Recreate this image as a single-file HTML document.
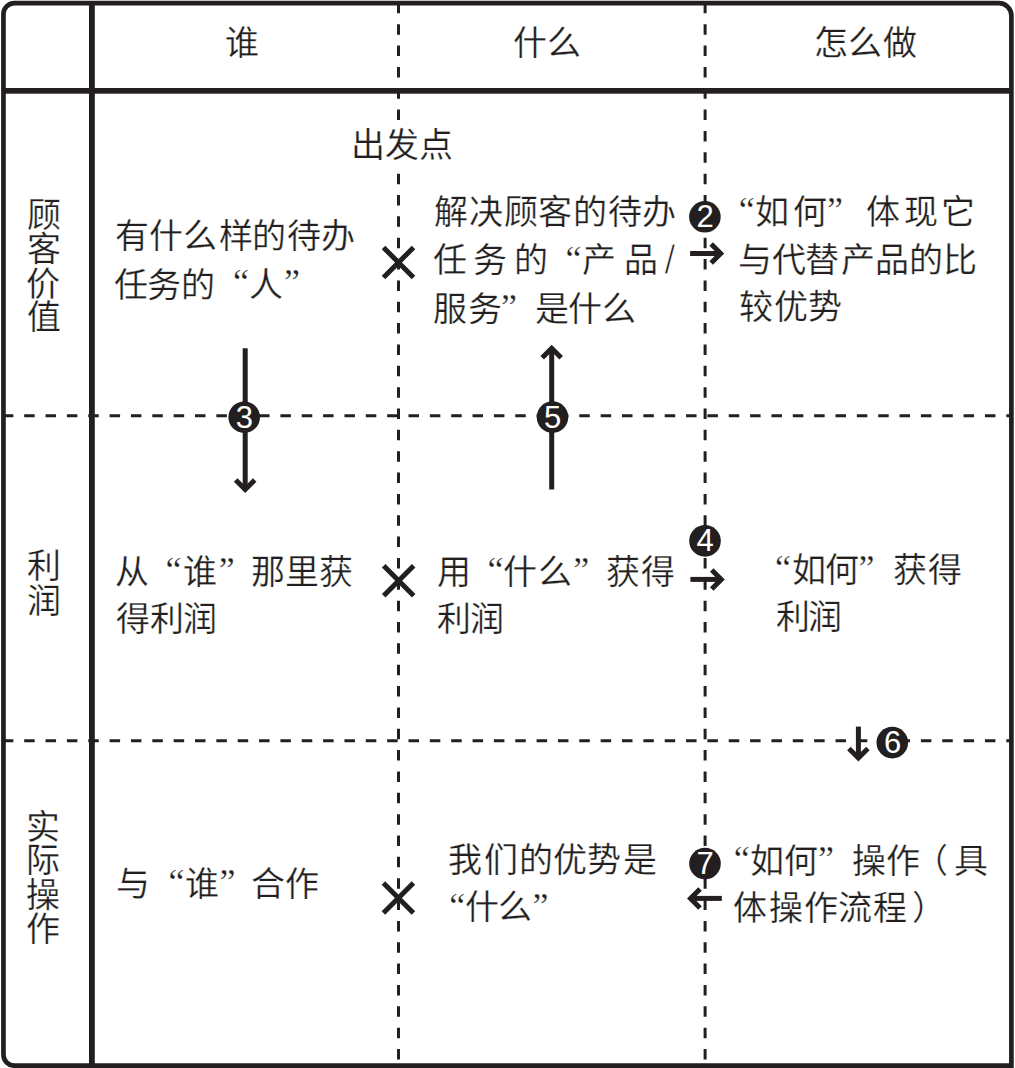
<!DOCTYPE html>
<html lang="zh-CN"><head><meta charset="utf-8">
<style>
html,body{margin:0;padding:0;background:#fff;}
body{width:1015px;height:1068px;position:relative;overflow:hidden;font-family:"Liberation Sans",sans-serif;}
svg{position:absolute;left:0;top:0;}
.c{position:absolute;font-size:34px;line-height:34px;color:#231f20;white-space:nowrap;-webkit-text-stroke:0.25px #fff;}
.q{position:absolute;font-family:"Liberation Serif",serif;color:#231f20;white-space:nowrap;-webkit-text-stroke:0.25px #fff;}
.s{position:absolute;font-family:"Liberation Sans",sans-serif;color:#231f20;-webkit-text-stroke:1px #fff;}
.d{position:absolute;font-family:"Liberation Sans",sans-serif;font-size:31px;line-height:31px;color:#fff;}
</style></head>
<body>
<svg width="1015" height="1068" viewBox="0 0 1015 1068">
<path d="M398.5 3.00V13.35M398.5 24.20V34.70M398.5 45.55V56.05M398.5 66.90V77.40M398.5 88.25V98.75M398.5 109.60V120.10M398.5 130.95V141.45M398.5 152.30V162.80M398.5 173.65V184.15M398.5 195.00V205.50M398.5 216.35V226.85M398.5 237.70V248.20M398.5 259.05V269.55M398.5 280.40V290.90M398.5 301.75V312.25M398.5 323.10V333.60M398.5 344.45V354.95M398.5 365.80V376.30M398.5 387.15V397.65M398.5 408.50V419.00M398.5 429.85V440.35M398.5 451.20V461.70M398.5 472.55V483.05M398.5 493.90V504.40M398.5 515.25V525.75M398.5 536.60V547.10M398.5 557.95V568.45M398.5 579.30V589.80M398.5 600.65V611.15M398.5 622.00V632.50M398.5 643.35V653.85M398.5 664.70V675.20M398.5 686.05V696.55M398.5 707.40V717.90M398.5 728.75V739.25M398.5 750.10V760.60M398.5 771.45V781.95M398.5 792.80V803.30M398.5 814.15V824.65M398.5 835.50V846.00M398.5 856.85V867.35M398.5 878.20V888.70M398.5 899.55V910.05M398.5 920.90V931.40M398.5 942.25V952.75M398.5 963.60V974.10M398.5 984.95V995.45M398.5 1006.30V1016.80M398.5 1027.65V1038.15M398.5 1049.00V1059.50" stroke="#231f20" stroke-width="3" fill="none"/>
<path d="M705.1 3.00V13.35M705.1 24.20V34.70M705.1 45.55V56.05M705.1 66.90V77.40M705.1 88.25V98.75M705.1 109.60V120.10M705.1 130.95V141.45M705.1 152.30V162.80M705.1 173.65V184.15M705.1 195.00V205.50M705.1 216.35V226.85M705.1 237.70V248.20M705.1 259.05V269.55M705.1 280.40V290.90M705.1 301.75V312.25M705.1 323.10V333.60M705.1 344.45V354.95M705.1 365.80V376.30M705.1 387.15V397.65M705.1 408.50V419.00M705.1 429.85V440.35M705.1 451.20V461.70M705.1 472.55V483.05M705.1 493.90V504.40M705.1 515.25V525.75M705.1 536.60V547.10M705.1 557.95V568.45M705.1 579.30V589.80M705.1 600.65V611.15M705.1 622.00V632.50M705.1 643.35V653.85M705.1 664.70V675.20M705.1 686.05V696.55M705.1 707.40V717.90M705.1 728.75V739.25M705.1 750.10V760.60M705.1 771.45V781.95M705.1 792.80V803.30M705.1 814.15V824.65M705.1 835.50V846.00M705.1 856.85V867.35M705.1 878.20V888.70M705.1 899.55V910.05M705.1 920.90V931.40M705.1 942.25V952.75M705.1 963.60V974.10M705.1 984.95V995.45M705.1 1006.30V1016.80M705.1 1027.65V1038.15M705.1 1049.00V1059.50" stroke="#231f20" stroke-width="3" fill="none"/>
<path d="M3.00 415.7H13.35M24.20 415.7H34.70M45.55 415.7H56.05M66.90 415.7H77.40M88.25 415.7H98.75M109.60 415.7H120.10M130.95 415.7H141.45M152.30 415.7H162.80M173.65 415.7H184.15M195.00 415.7H205.50M216.35 415.7H226.85M237.70 415.7H248.20M259.05 415.7H269.55M280.40 415.7H290.90M301.75 415.7H312.25M323.10 415.7H333.60M344.45 415.7H354.95M365.80 415.7H376.30M387.15 415.7H397.65M408.50 415.7H419.00M429.85 415.7H440.35M451.20 415.7H461.70M472.55 415.7H483.05M493.90 415.7H504.40M515.25 415.7H525.75M536.60 415.7H547.10M557.95 415.7H568.45M579.30 415.7H589.80M600.65 415.7H611.15M622.00 415.7H632.50M643.35 415.7H653.85M664.70 415.7H675.20M686.05 415.7H696.55M707.40 415.7H717.90M728.75 415.7H739.25M750.10 415.7H760.60M771.45 415.7H781.95M792.80 415.7H803.30M814.15 415.7H824.65M835.50 415.7H846.00M856.85 415.7H867.35M878.20 415.7H888.70M899.55 415.7H910.05M920.90 415.7H931.40M942.25 415.7H952.75M963.60 415.7H974.10M984.95 415.7H995.45M1006.30 415.7H1012.00" stroke="#231f20" stroke-width="3" fill="none"/>
<path d="M3.00 740.7H13.35M24.20 740.7H34.70M45.55 740.7H56.05M66.90 740.7H77.40M88.25 740.7H98.75M109.60 740.7H120.10M130.95 740.7H141.45M152.30 740.7H162.80M173.65 740.7H184.15M195.00 740.7H205.50M216.35 740.7H226.85M237.70 740.7H248.20M259.05 740.7H269.55M280.40 740.7H290.90M301.75 740.7H312.25M323.10 740.7H333.60M344.45 740.7H354.95M365.80 740.7H376.30M387.15 740.7H397.65M408.50 740.7H419.00M429.85 740.7H440.35M451.20 740.7H461.70M472.55 740.7H483.05M493.90 740.7H504.40M515.25 740.7H525.75M536.60 740.7H547.10M557.95 740.7H568.45M579.30 740.7H589.80M600.65 740.7H611.15M622.00 740.7H632.50M643.35 740.7H653.85M664.70 740.7H675.20M686.05 740.7H696.55M707.40 740.7H717.90M728.75 740.7H739.25M750.10 740.7H760.60M771.45 740.7H781.95M792.80 740.7H803.30M814.15 740.7H824.65M835.50 740.7H846.00M856.85 740.7H867.35M878.20 740.7H888.70M899.55 740.7H910.05M920.90 740.7H931.40M942.25 740.7H952.75M963.60 740.7H974.10M984.95 740.7H995.45M1006.30 740.7H1012.00" stroke="#231f20" stroke-width="3" fill="none"/>
<rect x="89" y="2" width="5.8" height="1066" fill="#231f20"/>
<rect x="2" y="88" width="1010" height="5.7" fill="#231f20"/>
<path d="M3.45 1054.7 V14.2 A11 11 0 0 1 14.45 3.2 H998.9 A12.5 12.5 0 0 1 1011.4 15.7 V1065.7 H14.45 A11 11 0 0 1 3.45 1054.7 Z" fill="none" stroke="#231f20" stroke-width="4.7" stroke-linejoin="miter"/>
<path d="M383.5 247.5L413.5 277.5M413.5 247.5L383.5 277.5" stroke="#231f20" stroke-width="5" fill="none"/>
<path d="M383.7 565.7L413.7 595.7M413.7 565.7L383.7 595.7" stroke="#231f20" stroke-width="5" fill="none"/>
<path d="M383.4 883L413.4 913M413.4 883L383.4 913" stroke="#231f20" stroke-width="5" fill="none"/>
<path d="M690.10 253.50L718.67 253.50" stroke="#231f20" stroke-width="5" fill="none"/><path d="M711.17 263.00L720.67 253.50L711.17 244.00" stroke="#231f20" stroke-width="5" fill="none" stroke-linejoin="miter" stroke-miterlimit="4"/>
<path d="M690.40 579.40L719.26 579.40" stroke="#231f20" stroke-width="5" fill="none"/><path d="M711.76 588.90L721.26 579.40L711.76 569.90" stroke="#231f20" stroke-width="5" fill="none" stroke-linejoin="miter" stroke-miterlimit="4"/>
<path d="M721.80 898.40L692.53 898.40" stroke="#231f20" stroke-width="5" fill="none"/><path d="M700.03 888.90L690.53 898.40L700.03 907.90" stroke="#231f20" stroke-width="5" fill="none" stroke-linejoin="miter" stroke-miterlimit="4"/>
<path d="M245.20 348.25L245.20 487.46" stroke="#231f20" stroke-width="5" fill="none"/><path d="M235.70 479.96L245.20 489.46L254.70 479.96" stroke="#231f20" stroke-width="5" fill="none" stroke-linejoin="miter" stroke-miterlimit="4"/>
<path d="M551.70 489.50L551.70 350.29" stroke="#231f20" stroke-width="5" fill="none"/><path d="M561.20 357.79L551.70 348.29L542.20 357.79" stroke="#231f20" stroke-width="5" fill="none" stroke-linejoin="miter" stroke-miterlimit="4"/>
<path d="M858.40 726.60L858.40 755.97" stroke="#231f20" stroke-width="5" fill="none"/><path d="M848.90 748.47L858.40 757.97L867.90 748.47" stroke="#231f20" stroke-width="5" fill="none" stroke-linejoin="miter" stroke-miterlimit="4"/>
<circle cx="704.9" cy="216.8" r="15.8" fill="#231f20"/>
<circle cx="244.2" cy="417.2" r="15.8" fill="#231f20"/>
<circle cx="705" cy="540.9" r="15.8" fill="#231f20"/>
<circle cx="552.5" cy="417.1" r="15.8" fill="#231f20"/>
<circle cx="892.3" cy="742.6" r="15.8" fill="#231f20"/>
<circle cx="705" cy="863.6" r="15.8" fill="#231f20"/>
</svg>
<div class="c" style="left:225.3px;top:25.6px">谁</div>
<div class="c" style="left:513.2px;top:25.6px">什</div>
<div class="c" style="left:547.1px;top:25.6px">么</div>
<div class="c" style="left:813.9px;top:25.6px">怎</div>
<div class="c" style="left:847.8px;top:25.6px">么</div>
<div class="c" style="left:882.7px;top:25.6px">做</div>
<div class="c" style="left:26.7px;top:198.1px">顾</div>
<div class="c" style="left:26.6px;top:232.3px">客</div>
<div class="c" style="left:26.4px;top:267.0px">价</div>
<div class="c" style="left:26.6px;top:300.4px">值</div>
<div class="c" style="left:26.8px;top:549.4px">利</div>
<div class="c" style="left:26.5px;top:583.6px">润</div>
<div class="c" style="left:26.4px;top:810.1px">实</div>
<div class="c" style="left:25.7px;top:843.4px">际</div>
<div class="c" style="left:26.4px;top:878.1px">操</div>
<div class="c" style="left:26.4px;top:911.6px">作</div>
<div style="position:absolute;left:352px;top:125px;width:102px;height:42px;background:#fff"></div>
<div class="c" style="left:350.8px;top:128.3px">出</div>
<div class="c" style="left:384.8px;top:128.3px">发</div>
<div class="c" style="left:418.6px;top:128.3px">点</div>
<div class="c" style="left:114.7px;top:218.8px">有</div>
<div class="c" style="left:148.5px;top:218.8px">什</div>
<div class="c" style="left:183.0px;top:218.8px">么</div>
<div class="c" style="left:218.5px;top:218.8px">样</div>
<div class="c" style="left:251.7px;top:218.8px">的</div>
<div class="c" style="left:286.8px;top:218.8px">待</div>
<div class="c" style="left:321.1px;top:218.8px">办</div>
<div class="c" style="left:113.9px;top:267.5px">任</div>
<div class="c" style="left:146.9px;top:267.5px">务</div>
<div class="c" style="left:180.7px;top:267.5px">的</div>
<div class="q" style="left:232.9px;top:264.1px;font-size:36px;line-height:36px">“</div>
<div class="c" style="left:249.4px;top:267.5px">人</div>
<div class="q" style="left:284.1px;top:264.1px;font-size:36px;line-height:36px">”</div>
<div class="c" style="left:434.3px;top:195.2px">解</div>
<div class="c" style="left:469.1px;top:195.2px">决</div>
<div class="c" style="left:503.7px;top:195.2px">顾</div>
<div class="c" style="left:538.2px;top:195.2px">客</div>
<div class="c" style="left:573.0px;top:195.2px">的</div>
<div class="c" style="left:607.5px;top:195.2px">待</div>
<div class="c" style="left:642.4px;top:195.2px">办</div>
<div class="c" style="left:433.0px;top:243.2px">任</div>
<div class="c" style="left:472.7px;top:243.2px">务</div>
<div class="c" style="left:513.5px;top:243.2px">的</div>
<div class="q" style="left:565.6px;top:240.6px;font-size:36px;line-height:36px">“</div>
<div class="c" style="left:581.6px;top:243.2px">产</div>
<div class="c" style="left:623.9px;top:243.2px">品</div>
<div class="c" style="left:433.4px;top:291.8px">服</div>
<div class="c" style="left:468.2px;top:291.8px">务</div>
<div class="q" style="left:501.0px;top:288.6px;font-size:36px;line-height:36px">”</div>
<div class="c" style="left:535.0px;top:291.8px">是</div>
<div class="c" style="left:568.4px;top:291.8px">什</div>
<div class="c" style="left:602.2px;top:291.8px">么</div>
<div class="q" style="left:738.7px;top:191.6px;font-size:36px;line-height:36px">“</div>
<div class="c" style="left:755.3px;top:195.2px">如</div>
<div class="c" style="left:793.2px;top:195.2px">何</div>
<div class="q" style="left:827.1px;top:191.6px;font-size:36px;line-height:36px">”</div>
<div class="c" style="left:866.2px;top:195.2px">体</div>
<div class="c" style="left:904.1px;top:195.2px">现</div>
<div class="c" style="left:941.2px;top:195.2px">它</div>
<div class="c" style="left:738.3px;top:242.5px">与</div>
<div class="c" style="left:771.6px;top:242.5px">代</div>
<div class="c" style="left:805.2px;top:242.5px">替</div>
<div class="c" style="left:841.1px;top:242.5px">产</div>
<div class="c" style="left:875.2px;top:242.5px">品</div>
<div class="c" style="left:908.8px;top:242.5px">的</div>
<div class="c" style="left:942.6px;top:242.5px">比</div>
<div class="c" style="left:738.8px;top:289.9px">较</div>
<div class="c" style="left:774.1px;top:289.9px">优</div>
<div class="c" style="left:807.8px;top:289.9px">势</div>
<div class="c" style="left:115.2px;top:554.5px">从</div>
<div class="q" style="left:165.6px;top:551.6px;font-size:36px;line-height:36px">“</div>
<div class="c" style="left:183.0px;top:554.5px">谁</div>
<div class="q" style="left:218.8px;top:551.6px;font-size:36px;line-height:36px">”</div>
<div class="c" style="left:251.0px;top:554.5px">那</div>
<div class="c" style="left:284.8px;top:554.5px">里</div>
<div class="c" style="left:318.9px;top:554.5px">获</div>
<div class="c" style="left:115.6px;top:601.9px">得</div>
<div class="c" style="left:150.0px;top:601.9px">利</div>
<div class="c" style="left:182.9px;top:601.9px">润</div>
<div class="c" style="left:436.7px;top:555.1px">用</div>
<div class="q" style="left:487.5px;top:552.1px;font-size:36px;line-height:36px">“</div>
<div class="c" style="left:503.1px;top:555.1px">什</div>
<div class="c" style="left:537.6px;top:555.1px">么</div>
<div class="q" style="left:573.3px;top:552.1px;font-size:36px;line-height:36px">”</div>
<div class="c" style="left:605.6px;top:555.1px">获</div>
<div class="c" style="left:640.5px;top:555.1px">得</div>
<div class="c" style="left:436.5px;top:601.9px">利</div>
<div class="c" style="left:469.7px;top:601.9px">润</div>
<div class="q" style="left:775.0px;top:549.6px;font-size:36px;line-height:36px">“</div>
<div class="c" style="left:791.6px;top:552.5px">如</div>
<div class="c" style="left:824.8px;top:552.5px">何</div>
<div class="q" style="left:858.5px;top:549.6px;font-size:36px;line-height:36px">”</div>
<div class="c" style="left:892.9px;top:552.5px">获</div>
<div class="c" style="left:927.6px;top:552.5px">得</div>
<div class="c" style="left:775.6px;top:600.4px">利</div>
<div class="c" style="left:808.4px;top:600.4px">润</div>
<div class="c" style="left:115.6px;top:866.6px">与</div>
<div class="q" style="left:168.6px;top:863.6px;font-size:36px;line-height:36px">“</div>
<div class="c" style="left:184.6px;top:866.6px">谁</div>
<div class="q" style="left:219.5px;top:863.6px;font-size:36px;line-height:36px">”</div>
<div class="c" style="left:251.2px;top:866.6px">合</div>
<div class="c" style="left:284.5px;top:866.6px">作</div>
<div class="c" style="left:448.2px;top:843.1px">我</div>
<div class="c" style="left:483.6px;top:843.1px">们</div>
<div class="c" style="left:518.6px;top:843.1px">的</div>
<div class="c" style="left:552.8px;top:843.1px">优</div>
<div class="c" style="left:586.8px;top:843.1px">势</div>
<div class="c" style="left:622.5px;top:843.1px">是</div>
<div class="q" style="left:449.2px;top:887.6px;font-size:36px;line-height:36px">“</div>
<div class="c" style="left:465.3px;top:890.4px">什</div>
<div class="c" style="left:498.3px;top:890.4px">么</div>
<div class="q" style="left:532.6px;top:887.6px;font-size:36px;line-height:36px">”</div>
<div class="q" style="left:733.7px;top:840.6px;font-size:36px;line-height:36px">“</div>
<div class="c" style="left:750.0px;top:843.5px">如</div>
<div class="c" style="left:784.1px;top:843.5px">何</div>
<div class="q" style="left:818.1px;top:840.6px;font-size:36px;line-height:36px">”</div>
<div class="c" style="left:851.9px;top:843.5px">操</div>
<div class="c" style="left:886.4px;top:843.5px">作</div>
<div class="c" style="left:913.9px;top:843.5px">（</div>
<div class="c" style="left:954.0px;top:843.5px">具</div>
<div class="c" style="left:733.4px;top:891.4px">体</div>
<div class="c" style="left:768.7px;top:891.4px">操</div>
<div class="c" style="left:803.9px;top:891.4px">作</div>
<div class="c" style="left:838.3px;top:891.4px">流</div>
<div class="c" style="left:873.3px;top:891.4px">程</div>
<div class="c" style="left:912.0px;top:891.4px">）</div>
<div class="s" style="left:664.2px;top:240.1px;font-size:40px;line-height:40px">/</div>
<div class="d" style="left:696.5px;top:201.3px">2</div>
<div class="d" style="left:235.8px;top:401.7px">3</div>
<div class="d" style="left:696.6px;top:525.4px">4</div>
<div class="d" style="left:544.1px;top:401.6px">5</div>
<div class="d" style="left:883.9px;top:727.1px">6</div>
<div class="d" style="left:696.6px;top:848.1px">7</div>
</body></html>
